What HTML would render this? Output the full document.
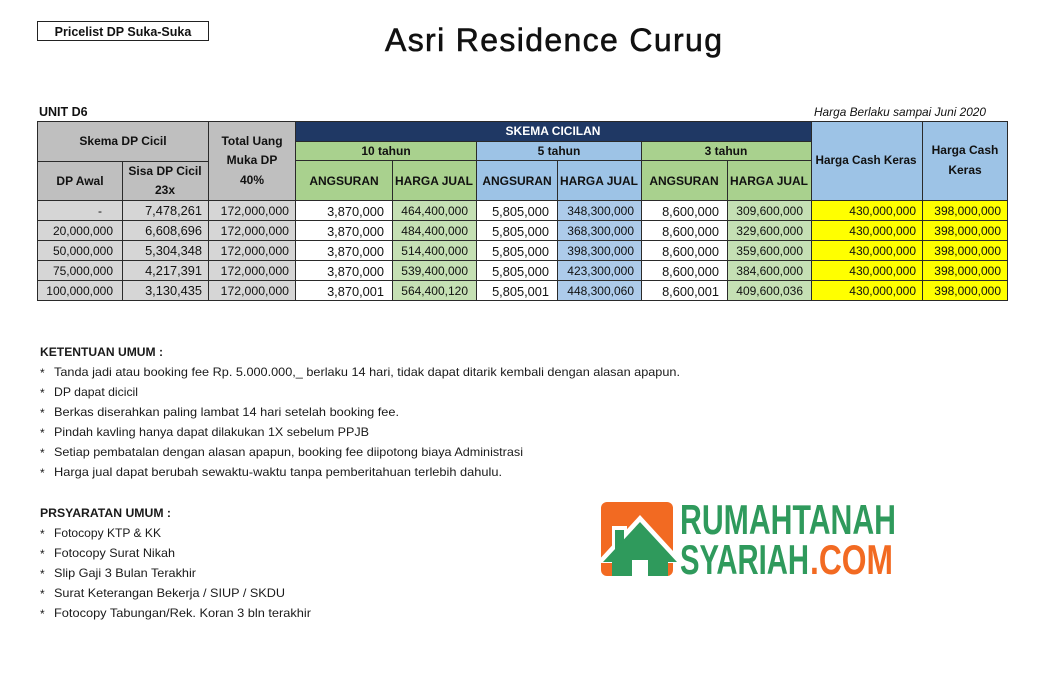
<!DOCTYPE html>
<html>
<head>
<meta charset="utf-8">
<style>
html,body{margin:0;padding:0;background:#fff;}
svg{display:block;}
text{font-family:"Liberation Sans",sans-serif;}
</style>
</head>
<body>
<svg width="1039" height="682" viewBox="0 0 1039 682" xmlns="http://www.w3.org/2000/svg">
<rect width="1039" height="682" fill="#ffffff"/>

<!-- Pricelist box -->
<rect x="37.5" y="21.5" width="171" height="19" fill="#fff" stroke="#222" stroke-width="1"/>
<text x="123" y="36" font-size="12.5" font-weight="bold" text-anchor="middle" fill="#111">Pricelist DP Suka-Suka</text>

<!-- Title -->
<text x="385" y="51" font-size="32" fill="#111" stroke="#111" stroke-width="0.6" textLength="337" lengthAdjust="spacing">Asri Residence Curug</text>

<text x="39" y="116" font-size="12.5" font-weight="bold" fill="#111">UNIT D6</text>
<text x="814" y="116" font-size="12" font-style="italic" fill="#111" textLength="172" lengthAdjust="spacingAndGlyphs">Harga Berlaku sampai Juni 2020</text>

<!-- Header cells -->
<g stroke="#2a2a2a" stroke-width="1">
<rect x="37.5" y="121.5" width="171" height="40" fill="#bfbfbf"/>
<rect x="37.5" y="161.5" width="85" height="39" fill="#bfbfbf"/>
<rect x="122.5" y="161.5" width="86" height="39" fill="#bfbfbf"/>
<rect x="208.5" y="121.5" width="87" height="79" fill="#bfbfbf"/>
<rect x="295.5" y="121.5" width="516" height="20" fill="#1f3864"/>
<rect x="295.5" y="141.5" width="181" height="19" fill="#a9d18e"/>
<rect x="476.5" y="141.5" width="165" height="19" fill="#9dc3e6"/>
<rect x="641.5" y="141.5" width="170" height="19" fill="#a9d18e"/>
<rect x="295.5" y="160.5" width="97" height="40" fill="#a9d18e"/>
<rect x="392.5" y="160.5" width="84" height="40" fill="#a9d18e"/>
<rect x="476.5" y="160.5" width="81" height="40" fill="#9dc3e6"/>
<rect x="557.5" y="160.5" width="84" height="40" fill="#9dc3e6"/>
<rect x="641.5" y="160.5" width="86" height="40" fill="#a9d18e"/>
<rect x="727.5" y="160.5" width="84" height="40" fill="#a9d18e"/>
<rect x="811.5" y="121.5" width="111" height="79" fill="#9dc3e6"/>
<rect x="922.5" y="121.5" width="85" height="79" fill="#9dc3e6"/>
</g>

<g font-size="12" font-weight="bold" fill="#111" text-anchor="middle">
<text x="123" y="145">Skema DP Cicil</text>
<text x="80" y="185">DP Awal</text>
<text x="165" y="175">Sisa DP Cicil</text>
<text x="165" y="194">23x</text>
<text x="252" y="145">Total Uang</text>
<text x="252" y="164">Muka DP</text>
<text x="252" y="184">40%</text>
<text x="553" y="135" fill="#ffffff">SKEMA CICILAN</text>
<text x="386" y="155">10 tahun</text>
<text x="559" y="155">5 tahun</text>
<text x="726" y="155">3 tahun</text>
<text x="344" y="185">ANGSURAN</text>
<text x="434" y="185" textLength="78" lengthAdjust="spacingAndGlyphs">HARGA JUAL</text>
<text x="517" y="185">ANGSURAN</text>
<text x="599" y="185" textLength="78" lengthAdjust="spacingAndGlyphs">HARGA JUAL</text>
<text x="684" y="185">ANGSURAN</text>
<text x="769" y="185" textLength="78" lengthAdjust="spacingAndGlyphs">HARGA JUAL</text>
<text x="866" y="164" textLength="101" lengthAdjust="spacingAndGlyphs">Harga Cash Keras</text>
<text x="965" y="154">Harga Cash</text>
<text x="965" y="174">Keras</text>
</g>

<!-- Data cells -->
<g stroke="#2a2a2a" stroke-width="1">
<rect x="37.5" y="200.5" width="85" height="100" fill="#d6d6d6"/>
<rect x="122.5" y="200.5" width="86" height="100" fill="#d6d6d6"/>
<rect x="208.5" y="200.5" width="87" height="100" fill="#d6d6d6"/>
<rect x="295.5" y="200.5" width="97" height="100" fill="#ffffff"/>
<rect x="392.5" y="200.5" width="84" height="100" fill="#c5e0b4"/>
<rect x="476.5" y="200.5" width="81" height="100" fill="#ffffff"/>
<rect x="557.5" y="200.5" width="84" height="100" fill="#adcbea"/>
<rect x="641.5" y="200.5" width="86" height="100" fill="#ffffff"/>
<rect x="727.5" y="200.5" width="84" height="100" fill="#c5e0b4"/>
<rect x="811.5" y="200.5" width="111" height="100" fill="#ffff00"/>
<rect x="922.5" y="200.5" width="85" height="100" fill="#ffff00"/>
<line x1="37" y1="220.5" x2="1008" y2="220.5"/>
<line x1="37" y1="240.5" x2="1008" y2="240.5"/>
<line x1="37" y1="260.5" x2="1008" y2="260.5"/>
<line x1="37" y1="280.5" x2="1008" y2="280.5"/>
</g>

<g fill="#111" text-anchor="end">
<g font-size="12">
<text x="102" y="215">-</text>
<text x="113" y="215" display="none"></text>
<text x="113" y="235">20,000,000</text>
<text x="113" y="255">50,000,000</text>
<text x="113" y="275">75,000,000</text>
<text x="113" y="295">100,000,000</text>
</g>
<g font-size="12.8">
<text x="202" y="215">7,478,261</text>
<text x="202" y="235">6,608,696</text>
<text x="202" y="255">5,304,348</text>
<text x="202" y="275">4,217,391</text>
<text x="202" y="295">3,130,435</text>
</g>
<g font-size="12.3">
<text x="289" y="215">172,000,000</text>
<text x="289" y="235">172,000,000</text>
<text x="289" y="255">172,000,000</text>
<text x="289" y="275">172,000,000</text>
<text x="289" y="295">172,000,000</text>
</g>
<g font-size="12.8">
<text x="384" y="216">3,870,000</text>
<text x="384" y="236">3,870,000</text>
<text x="384" y="256">3,870,000</text>
<text x="384" y="276">3,870,000</text>
<text x="384" y="296">3,870,001</text>
<text x="549" y="216">5,805,000</text>
<text x="549" y="236">5,805,000</text>
<text x="549" y="256">5,805,000</text>
<text x="549" y="276">5,805,000</text>
<text x="549" y="296">5,805,001</text>
<text x="719" y="216">8,600,000</text>
<text x="719" y="236">8,600,000</text>
<text x="719" y="256">8,600,000</text>
<text x="719" y="276">8,600,000</text>
<text x="719" y="296">8,600,001</text>
</g>
<g font-size="12">
<text x="468" y="215">464,400,000</text>
<text x="468" y="235">484,400,000</text>
<text x="468" y="255">514,400,000</text>
<text x="468" y="275">539,400,000</text>
<text x="468" y="295">564,400,120</text>
<text x="634" y="215">348,300,000</text>
<text x="634" y="235">368,300,000</text>
<text x="634" y="255">398,300,000</text>
<text x="634" y="275">423,300,000</text>
<text x="634" y="295">448,300,060</text>
<text x="803" y="215">309,600,000</text>
<text x="803" y="235">329,600,000</text>
<text x="803" y="255">359,600,000</text>
<text x="803" y="275">384,600,000</text>
<text x="803" y="295">409,600,036</text>
<text x="916" y="215">430,000,000</text>
<text x="916" y="235">430,000,000</text>
<text x="916" y="255">430,000,000</text>
<text x="916" y="275">430,000,000</text>
<text x="916" y="295">430,000,000</text>
<text x="1001" y="215">398,000,000</text>
<text x="1001" y="235">398,000,000</text>
<text x="1001" y="255">398,000,000</text>
<text x="1001" y="275">398,000,000</text>
<text x="1001" y="295">398,000,000</text>
</g>
</g>

<!-- Ketentuan -->
<g fill="#1a1a1a" font-size="12">
<text x="40" y="356" font-weight="bold" textLength="123" lengthAdjust="spacingAndGlyphs">KETENTUAN UMUM :</text>
<text x="40" y="377">*</text><text x="54" y="376" textLength="626" lengthAdjust="spacingAndGlyphs">Tanda jadi atau booking fee Rp. 5.000.000,_ berlaku 14 hari, tidak dapat ditarik kembali dengan alasan apapun.</text>
<text x="40" y="397">*</text><text x="54" y="396" textLength="84" lengthAdjust="spacingAndGlyphs">DP dapat dicicil</text>
<text x="40" y="417">*</text><text x="54" y="416" textLength="345" lengthAdjust="spacingAndGlyphs">Berkas diserahkan paling lambat 14 hari setelah booking fee.</text>
<text x="40" y="437">*</text><text x="54" y="436" textLength="315" lengthAdjust="spacingAndGlyphs">Pindah kavling hanya dapat dilakukan 1X sebelum PPJB</text>
<text x="40" y="457">*</text><text x="54" y="456" textLength="469" lengthAdjust="spacingAndGlyphs">Setiap pembatalan dengan alasan apapun, booking fee diipotong biaya Administrasi</text>
<text x="40" y="477">*</text><text x="54" y="476" textLength="448" lengthAdjust="spacingAndGlyphs">Harga jual dapat berubah sewaktu-waktu tanpa pemberitahuan terlebih dahulu.</text>

<text x="40" y="517" font-weight="bold" textLength="131" lengthAdjust="spacingAndGlyphs">PRSYARATAN UMUM :</text>
<text x="40" y="538">*</text><text x="54" y="537" textLength="107" lengthAdjust="spacingAndGlyphs">Fotocopy KTP &amp; KK</text>
<text x="40" y="558">*</text><text x="54" y="557" textLength="121" lengthAdjust="spacingAndGlyphs">Fotocopy Surat Nikah</text>
<text x="40" y="578">*</text><text x="54" y="577" textLength="142" lengthAdjust="spacingAndGlyphs">Slip Gaji 3 Bulan Terakhir</text>
<text x="40" y="598">*</text><text x="54" y="597" textLength="231" lengthAdjust="spacingAndGlyphs">Surat Keterangan Bekerja / SIUP / SKDU</text>
<text x="40" y="618">*</text><text x="54" y="617" textLength="257" lengthAdjust="spacingAndGlyphs">Fotocopy Tabungan/Rek. Koran 3 bln terakhir</text>
</g>

<!-- Logo -->
<rect x="601" y="502" width="72" height="74" rx="6" fill="#f26a22"/>
<polygon points="596,563 640,515 684,563" fill="#ffffff"/>
<rect x="612" y="526" width="15" height="24" fill="#ffffff"/>
<rect x="615" y="530" width="9" height="22" fill="#2f9a5c"/>
<polygon points="603,562 640,522 677,562 668,562 668,576 612,576 612,562" fill="#2f9a5c"/>
<rect x="632" y="560" width="16" height="16" fill="#ffffff"/>
<text x="680" y="534" font-size="42" font-weight="bold" fill="#2f9a5c" textLength="216" lengthAdjust="spacingAndGlyphs">RUMAHTANAH</text>
<text x="680" y="574" font-size="42" font-weight="bold" fill="#2f9a5c" textLength="129" lengthAdjust="spacingAndGlyphs">SYARIAH</text>
<text x="810" y="574" font-size="42" font-weight="bold" fill="#f26a22" textLength="83" lengthAdjust="spacingAndGlyphs">.COM</text>
</svg>
</body>
</html>
